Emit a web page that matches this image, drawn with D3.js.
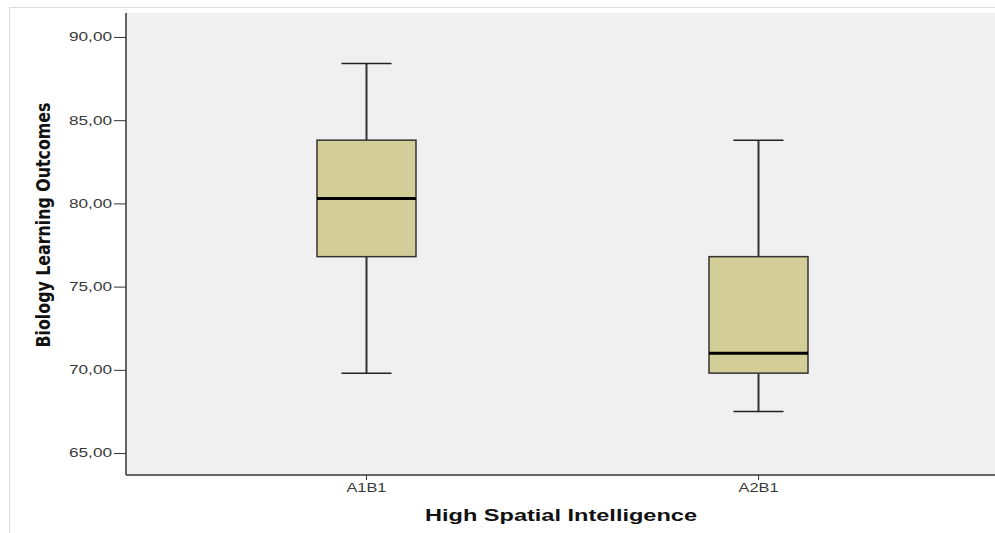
<!DOCTYPE html>
<html>
<head>
  <script src="https://d3js.org/d3.v7.min.js"></script>
  <style>
    body { margin: 0; background: #fff; }
    .tick-label { font-family: Arial, "Liberation Sans", sans-serif; font-size: 12px; fill: #3a3a3a; }
  </style>
</head>
<body>
  <svg id="chart" width="995" height="533"></svg>
  <script>
    // 数据
    const categories = ["A1B1", "A2B1"];
    const mins = [69.8, 67.5];
    const q1s = [76.8, 69.8];
    const medians = [80.3, 71.0];
    const q3s = [83.8, 76.8];
    const maxs = [88.4, 83.8];
    const yTicks = [65, 70, 75, 80, 85, 90];

    const svg = d3.select("#chart");
    const plot = { left: 126, top: 13, right: 998, bottom: 475 };

    // 外框
    svg.append("rect")
      .attr("x", 9.5).attr("y", 7.5)
      .attr("width", 1000).attr("height", 540)
      .attr("fill", "none").attr("stroke", "#dcdcdc");

    const y = d3.scaleLinear().domain([63.68, 91.44]).range([plot.bottom, plot.top]);
    const x = d3.scalePoint().domain(categories)
      .range([plot.left, plot.right]).padding(0.612);

    // 绘图区背景
    svg.append("rect")
      .attr("x", plot.left).attr("y", plot.top)
      .attr("width", plot.right - plot.left).attr("height", plot.bottom - plot.top)
      .attr("fill", "#f0f0f0");

    // 箱线图
    const boxW = 99, capW = 50;
    const g = svg.append("g");
    categories.forEach((c, i) => {
      const cx = Math.round(x(c)) + 0.5;
      // 须线
      g.append("line").attr("x1", cx).attr("x2", cx)
        .attr("y1", y(maxs[i])).attr("y2", y(q3s[i]))
        .attr("stroke", "#333").attr("stroke-width", 2);
      g.append("line").attr("x1", cx).attr("x2", cx)
        .attr("y1", y(q1s[i])).attr("y2", y(mins[i]))
        .attr("stroke", "#333").attr("stroke-width", 2);
      [maxs[i], mins[i]].forEach(v => {
        g.append("line").attr("x1", cx - capW / 2).attr("x2", cx + capW / 2)
          .attr("y1", y(v)).attr("y2", y(v))
          .attr("stroke", "#222").attr("stroke-width", 1.5);
      });
      g.append("rect")
        .attr("x", cx - boxW / 2).attr("y", y(q3s[i]))
        .attr("width", boxW).attr("height", y(q1s[i]) - y(q3s[i]))
        .attr("fill", "#d3ce97").attr("stroke", "#333").attr("stroke-width", 1.5);
      g.append("line").attr("x1", cx - boxW / 2).attr("x2", cx + boxW / 2)
        .attr("y1", y(medians[i])).attr("y2", y(medians[i]))
        .attr("stroke", "#000").attr("stroke-width", 3);
    });

    // Y 轴
    const yAxis = svg.append("g")
      .attr("transform", `translate(${plot.left},0)`)
      .call(d3.axisLeft(y).tickValues(yTicks).tickSize(12).tickPadding(2)
        .tickFormat(d => d3.format(".2f")(d).replace(".", ",")));
    yAxis.select(".domain").attr("stroke", "#333").attr("stroke-width", 1.5)
      .attr("d", `M0,${plot.top}V${plot.bottom}`);
    yAxis.selectAll(".tick line").attr("stroke", "#333");
    yAxis.selectAll(".tick text").attr("class", "tick-label").attr("font-size", null).attr("font-family", null)
      .attr("textLength", 43).attr("lengthAdjust", "spacingAndGlyphs");

    // X 轴
    const xAxis = svg.append("g")
      .attr("transform", `translate(0,${plot.bottom})`)
      .call(d3.axisBottom(x).tickSize(5).tickPadding(3));
    xAxis.select(".domain").attr("stroke", "#666").attr("stroke-width", 2)
      .attr("d", `M${plot.left},0H${plot.right}`);
    xAxis.selectAll(".tick line").attr("stroke", "#333");
    xAxis.selectAll(".tick text").attr("class", "tick-label").attr("font-size", null).attr("font-family", null)
      .attr("textLength", 40).attr("lengthAdjust", "spacingAndGlyphs");

    // 轴标题
    svg.append("text")
      .attr("x", 561).attr("y", 521)
      .attr("text-anchor", "middle")
      .attr("font-family", "Arial, 'Liberation Sans', sans-serif")
      .attr("font-weight", "bold").attr("font-size", 17)
      .attr("textLength", 272).attr("lengthAdjust", "spacingAndGlyphs")
      .attr("fill", "#111")
      .text("High Spatial Intelligence");

    svg.append("text")
      .attr("transform", "translate(50,225) rotate(-90)")
      .attr("text-anchor", "middle")
      .attr("font-family", "'Liberation Sans Narrow', 'DejaVu Sans Condensed', Arial, sans-serif")
      .attr("font-weight", "bold").attr("font-size", 19)
      .attr("textLength", 245).attr("lengthAdjust", "spacingAndGlyphs")
      .attr("fill", "#111")
      .text("Biology Learning Outcomes");
  </script>
</body>
</html>
